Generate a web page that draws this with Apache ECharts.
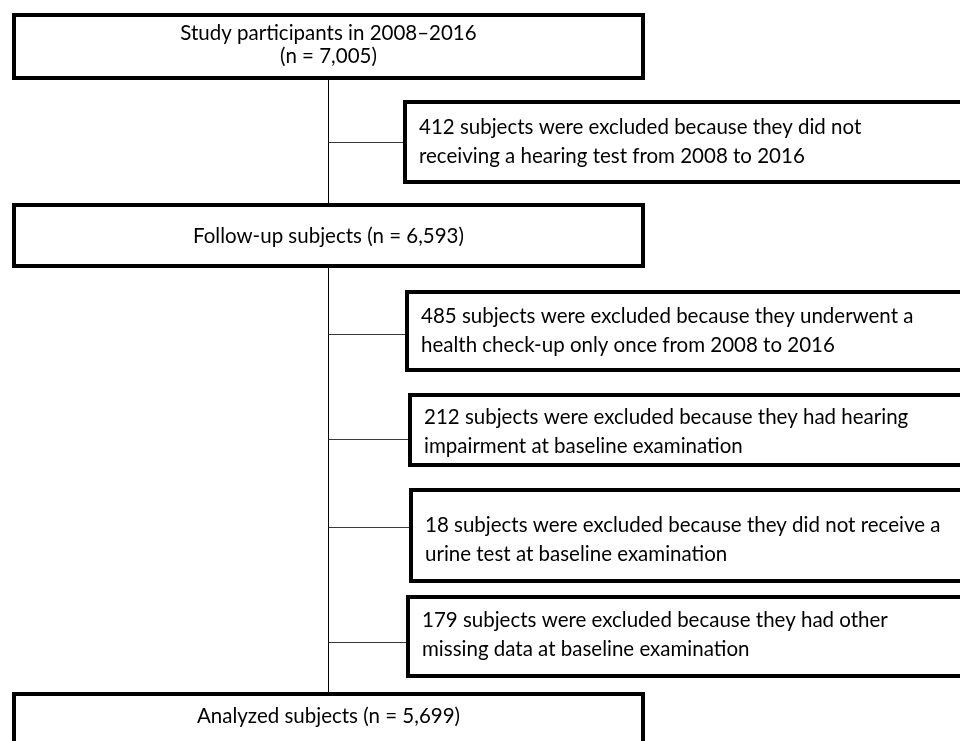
<!DOCTYPE html>
<html>
<head>
<meta charset="utf-8">
<script src="https://cdn.jsdelivr.net/npm/echarts@6/dist/echarts.min.js"></script>
<style>
html,body{margin:0;padding:0;background:#fff;}
#main{width:960px;height:741px;}
</style>
</head>
<body>
<div id="main"></div>
<script>
// ---- data ----
const mainSteps = [
  "Study participants in 2008–2016\n(n = 7,005)",
  "Follow-up subjects (n = 6,593)",
  "Analyzed subjects (n = 5,699)"
];
const exclusionSteps = [
  "412 subjects were excluded because they did not\nreceiving a hearing test from 2008 to 2016",
  "485 subjects were excluded because they underwent a\nhealth check-up only once from 2008 to 2016",
  "212 subjects were excluded because they had hearing\nimpairment at baseline examination",
  "18 subjects were excluded because they did not receive a\nurine test at baseline examination",
  "179 subjects were excluded because they had other\nmissing data at baseline examination"
];
const participantCounts = [7005, 6593, 5699];
const excludedCounts = [412, 485, 212, 18, 179];

// ---- layout (page units on hidden value axes) ----
const mainLayout = [
  {x0: 14, y0: 15, x1: 643, y1: 78, lh: 23, ty: 45},
  {x0: 14, y0: 205, x1: 643, y1: 266, lh: 23, ty: 236},
  {x0: 14, y0: 694, x1: 643, y1: 760, lh: 23, ty: 716}
];
const exclLayout = [
  {x0: 405, y0: 102, x1: 990, y1: 182, cy: 142, ty: 141.5},
  {x0: 407, y0: 292, x1: 990, y1: 370, cy: 334, ty: 331},
  {x0: 410, y0: 395, x1: 990, y1: 465, cy: 439, ty: 432},
  {x0: 411, y0: 490, x1: 990, y1: 581, cy: 527, ty: 540},
  {x0: 408, y0: 597, x1: 990, y1: 676, cy: 642, ty: 634.5}
];
const spineX = 328.5;
const FONT_FAMILY = 'Lato, "Noto Sans", sans-serif';
const FONT_SIZE = 20.5;

const chart = echarts.init(document.getElementById('main'), null, {renderer: 'canvas'});

function boxItem(api, lay, text, align, tx, ty, lh) {
  const p0 = api.coord([lay.x0, lay.y0]);
  const p1 = api.coord([lay.x1, lay.y1]);
  const t = api.coord([tx, ty]);
  return {
    type: 'group',
    children: [
      {type: 'rect', shape: {x: p0[0], y: p0[1], width: p1[0] - p0[0], height: p1[1] - p0[1]},
       style: {fill: '#fff', stroke: '#000', lineWidth: 4}},
      {type: 'text', x: t[0], y: t[1],
       style: {text: text, fill: '#000', fontSize: FONT_SIZE, fontFamily: FONT_FAMILY,
               align: align, verticalAlign: 'middle', lineHeight: lh}}
    ]
  };
}

const option = {
  animation: false,
  backgroundColor: '#ffffff',
  grid: {left: 0, right: 0, top: 0, bottom: 0},
  xAxis: {type: 'value', min: 0, max: 960, show: false},
  yAxis: {type: 'value', min: 0, max: 741, inverse: true, show: false},
  series: [
    {
      type: 'custom', name: 'spine', clip: false,
      data: [[spineX, mainLayout[0].y1, mainLayout[2].y0]],
      renderItem: (params, api) => {
        const a = api.coord([api.value(0), api.value(1)]);
        const b = api.coord([api.value(0), api.value(2)]);
        return {type: 'line', shape: {x1: a[0], y1: a[1], x2: b[0], y2: b[1]},
                style: {stroke: '#000', lineWidth: 1}};
      }
    },
    {
      type: 'custom', name: 'connectors', clip: false,
      data: excludedCounts.map((v, i) => [spineX, exclLayout[i].x0, exclLayout[i].cy + 0.5, v]),
      renderItem: (params, api) => {
        const a = api.coord([api.value(0), api.value(2)]);
        const b = api.coord([api.value(1), api.value(2)]);
        return {type: 'line', shape: {x1: a[0], y1: a[1], x2: b[0], y2: b[1]},
                style: {stroke: '#3a3a3a', lineWidth: 1}};
      }
    },
    {
      type: 'custom', name: 'main', clip: false,
      data: participantCounts.map((v, i) => [i, v]),
      renderItem: (params, api) => {
        const i = params.dataIndex;
        const lay = mainLayout[i];
        return boxItem(api, lay, mainSteps[i], 'center', (lay.x0 + lay.x1) / 2, lay.ty, lay.lh);
      }
    },
    {
      type: 'custom', name: 'excluded', clip: false,
      data: excludedCounts.map((v, i) => [i, v]),
      renderItem: (params, api) => {
        const i = params.dataIndex;
        const lay = exclLayout[i];
        return boxItem(api, lay, exclusionSteps[i], 'left', lay.x0 + 14, lay.ty, 29);
      }
    }
  ]
};
chart.setOption(option);
</script>
</body>
</html>
